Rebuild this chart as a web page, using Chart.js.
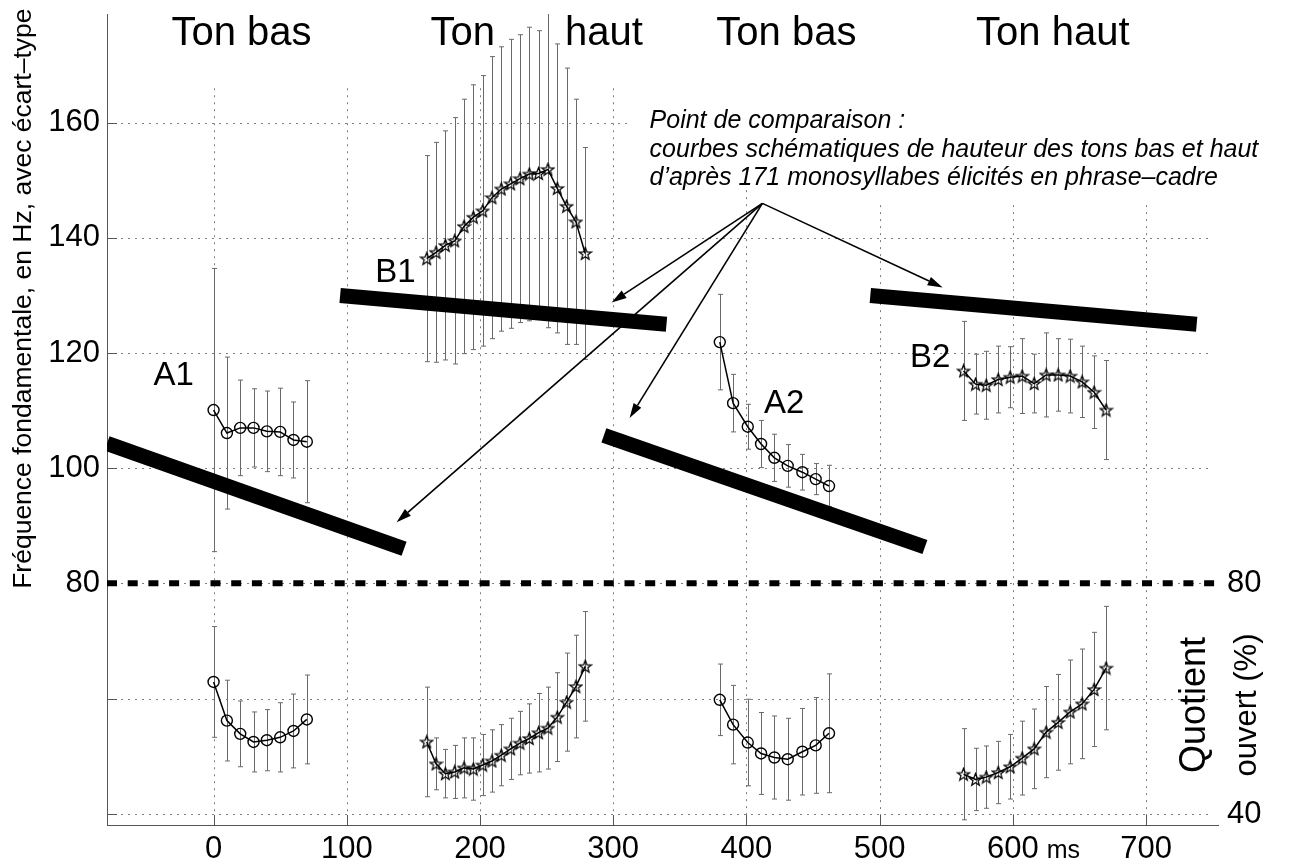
<!DOCTYPE html>
<html>
<head>
<meta charset="utf-8">
<script src="https://cdn.jsdelivr.net/npm/chart.js@4.4.1/dist/chart.umd.min.js"></script>
<style>
  html, body { margin: 0; padding: 0; background: #fff; }
  canvas { display: block; }
</style>
</head>
<body>
<canvas id="chart" width="1305" height="865"></canvas>
<script>
const FONT = '"Liberation Sans", Arial, Helvetica, sans-serif'
const AXIS = '#555'

// axes
const msTicks = [0, 100, 200, 300, 400, 500, 600, 700]
const hzTicks = [80, 100, 120, 140, 160]
const oqTicks = [40, 80]
const hzTitle = 'Fréquence fondamentale, en Hz, avec écart–type'
const oqTitle = ['Quotient', 'ouvert (%)']

// A1 : ton bas
const a1Ms = [0, 10, 20, 30, 40, 50, 60, 70]
const a1Hz = [110.1, 106.1, 107.0, 107.0, 106.4, 106.3, 104.9, 104.6]
const a1HzSd = [24.6, 13.2, 8.3, 6.8, 7.0, 7.6, 6.6, 10.6]
const a1Oq = [62.9, 56.2, 53.9, 52.5, 52.8, 53.3, 54.4, 56.4]
const a1OqSd = [9.6, 7.0, 5.7, 5.2, 5.3, 6.0, 6.4, 7.7]

// B1 : ton haut
const b1Ms = [160, 167, 174, 181, 188, 195, 202, 209, 216, 223, 230, 237, 244, 251, 258, 265, 272, 279]
const b1Hz = [136.4, 137.5, 138.7, 139.5, 142.0, 143.6, 144.7, 147.0, 148.5, 149.4, 150.3, 151.1, 151.2, 151.9, 148.6, 145.5, 142.8, 137.3]
const b1HzSd = [17.9, 19.1, 19.9, 21.4, 22.1, 23.0, 23.5, 24.5, 24.7, 25.1, 25.0, 25.5, 24.8, 27.5, 25.1, 24.0, 21.3, 18.4]
const b1Oq = [52.5, 48.7, 47.0, 47.3, 48.0, 47.8, 48.5, 49.2, 50.2, 51.3, 52.3, 53.1, 54.1, 54.9, 56.8, 59.4, 62.1, 65.6]
const b1OqSd = [9.5, 4.5, 4.2, 4.6, 5.2, 5.4, 5.3, 5.4, 5.3, 5.3, 5.5, 6.0, 6.8, 7.1, 7.7, 8.5, 8.9, 9.5]

// A2 : ton bas
const a2Ms = [380, 390, 401, 411, 421, 431, 442, 452, 462]
const a2Hz = [121.9, 111.3, 107.2, 104.2, 101.8, 100.4, 99.3, 98.1, 96.9]
const a2HzSd = [8.3, 5.0, 3.9, 4.1, 4.1, 3.7, 3.1, 2.7, 3.6]
const a2Oq = [59.8, 55.5, 52.4, 50.5, 49.8, 49.5, 50.8, 51.9, 54.0]
const a2OqSd = [6.2, 6.8, 7.5, 7.1, 7.2, 7.1, 7.5, 8.3, 10.3]

// B2 : ton haut
const b2Ms = [563, 572, 580, 589, 598, 607, 616, 625, 634, 643, 652, 661, 670]
const b2Hz = [116.9, 114.6, 114.4, 115.4, 115.8, 116.0, 114.7, 116.2, 116.2, 116.0, 115.0, 113.2, 110.1]
const b2HzSd = [8.6, 5.2, 5.9, 5.8, 5.3, 6.5, 5.1, 7.3, 6.3, 6.4, 6.2, 6.3, 8.6]
const b2Oq = [46.9, 46.0, 46.4, 47.2, 48.2, 49.7, 51.3, 54.2, 55.9, 57.7, 59.1, 61.6, 65.3]
const b2OqSd = [7.9, 5.4, 5.4, 5.4, 5.6, 6.4, 6.9, 7.9, 8.3, 9.0, 9.5, 9.9, 10.7]

// schematic tone curves (start, end)
const schemaMs = [[-80, 143], [95, 340], [293, 534], [493, 738]]
const schemaHz = [[104.3, 86.0], [130.0, 125.0], [105.7, 86.3], [130.0, 125.0]]

// annotations, placed in data units
const toneLabels = ['Ton bas', 'Ton', 'haut', 'Ton bas', 'Ton haut']
const toneLabelMs = [21, 187, 293, 430, 630]
const curveLabels = ['A1', 'B1', 'A2', 'B2']
const curveLabelAt = [[-30, 114.4], [136.6, 132.3], [428.3, 109.6], [538, 117.6]]
const noteLines = ['Point de comparaison :', 'courbes schématiques de hauteur des tons bas et haut', 'd’après 171 monosyllabes élicités en phrase–cadre']
const noteHz = [159.05, 154.1, 149.15]
const arrowFrom = [412, 146.0]
const arrowTo = [[298.8, 128.8], [137.4, 90.6], [312.3, 108.7], [547.3, 131.4]]

// grid extents (the figure is a montage, grid lines are partial)
const gridTopHz = [166, 166, 166, 166, 148.3, 145.7, 145.7, 145.7]
const hzGridEndMs = [750, 750, 750, 750, 312]

// helpers
const pts = (xs, ys) => xs.map((x, i) => ({ x, y: ys[i] }))

function makeStar() {
  const c = document.createElement('canvas')
  c.width = 15; c.height = 15
  const g = c.getContext('2d')
  g.beginPath()
  for (let i = 0; i < 10; i++) {
    const r = i % 2 ? 2.7 : 6.4
    const a = -Math.PI / 2 + i * Math.PI / 5
    g.lineTo(7.5 + r * Math.cos(a), 8 + r * Math.sin(a))
  }
  g.closePath()
  g.strokeStyle = '#000'
  g.lineWidth = 1.3
  g.stroke()
  return c
}
const star = makeStar()

function series(xs, ys, sd, axis, marker) {
  return {
    data: pts(xs, ys),
    errors: sd,
    yAxisID: axis,
    borderColor: '#000',
    borderWidth: 1.5,
    pointStyle: marker,
    pointRadius: marker === 'circle' ? 5.5 : 7,
    pointBorderWidth: 1.4,
    pointBorderColor: '#000',
    pointBackgroundColor: 'rgba(0,0,0,0)',
    tension: 0
  }
}

const schemaSets = schemaMs.map((xs, i) => ({
  data: pts(xs, schemaHz[i]),
  yAxisID: 'yHz',
  borderColor: '#000',
  borderWidth: 15,
  borderCapStyle: 'butt',
  pointRadius: 0
}))

const limit80 = {
  data: pts([-80, 754], [80, 80]),
  yAxisID: 'yHz',
  clip: false,
  borderColor: '#000',
  borderWidth: 6,
  borderDash: [10, 10.7],
  borderCapStyle: 'butt',
  pointRadius: 0
}

// plugins
const backdrop = {
  id: 'backdrop',
  beforeDatasetsDraw(chart) {
    const { ctx, chartArea: area, scales: { x, yHz, yQ } } = chart
    ctx.save()
    ctx.strokeStyle = '#7d7d7d'
    ctx.lineWidth = 1
    ctx.setLineDash([2, 5])
    msTicks.forEach((v, i) => {
      const px = Math.round(x.getPixelForValue(v)) + 0.5
      ctx.beginPath()
      ctx.moveTo(px, yHz.getPixelForValue(gridTopHz[i]))
      ctx.lineTo(px, area.bottom)
      ctx.stroke()
    })
    const hline = (scale, v, toMs) => {
      const py = Math.round(scale.getPixelForValue(v)) + 0.5
      ctx.beginPath()
      ctx.moveTo(area.left, py)
      ctx.lineTo(x.getPixelForValue(toMs), py)
      ctx.stroke()
    }
    hzTicks.forEach((v, i) => hline(yHz, v, hzGridEndMs[i]))
    ;[40, 60].forEach(v => hline(yQ, v, 750))

    // inward tick marks
    ctx.setLineDash([])
    ctx.strokeStyle = AXIS
    msTicks.forEach(v => {
      const px = Math.round(x.getPixelForValue(v)) + 0.5
      ctx.beginPath(); ctx.moveTo(px, area.bottom); ctx.lineTo(px, area.bottom - 10); ctx.stroke()
    })
    const ytick = (scale, v) => {
      const py = Math.round(scale.getPixelForValue(v)) + 0.5
      ctx.beginPath(); ctx.moveTo(area.left, py); ctx.lineTo(area.left + 10, py); ctx.stroke()
    }
    hzTicks.forEach(v => ytick(yHz, v))
    ;[40, 60].forEach(v => ytick(yQ, v))

    // error bars
    ctx.beginPath()
    ctx.rect(area.left, area.top, area.width, area.height)
    ctx.clip()
    ctx.strokeStyle = '#6a6a6a'
    chart.data.datasets.forEach(ds => {
      if (!ds.errors) return
      const y = chart.scales[ds.yAxisID]
      ds.data.forEach((p, i) => {
        const px = Math.round(x.getPixelForValue(p.x)) + 0.5
        const top = y.getPixelForValue(p.y + ds.errors[i])
        const bot = y.getPixelForValue(p.y - ds.errors[i])
        ctx.beginPath()
        ctx.moveTo(px, top); ctx.lineTo(px, bot)
        ctx.moveTo(px - 2.5, top); ctx.lineTo(px + 2.5, top)
        ctx.moveTo(px - 2.5, bot); ctx.lineTo(px + 2.5, bot)
        ctx.stroke()
      })
    })
    ctx.restore()
  }
}

const notes = {
  id: 'notes',
  afterDatasetsDraw(chart) {
    const { ctx, scales: { x, yHz, yQ } } = chart
    ctx.save()
    ctx.fillStyle = '#000'
    ctx.strokeStyle = '#000'

    // arrows
    const ox = x.getPixelForValue(arrowFrom[0])
    const oy = yHz.getPixelForValue(arrowFrom[1])
    ctx.lineWidth = 1.6
    arrowTo.forEach(([ms, hz]) => {
      const tx = x.getPixelForValue(ms)
      const ty = yHz.getPixelForValue(hz)
      const a = Math.atan2(ty - oy, tx - ox)
      const len = 15, half = 4.5
      const bx = tx - len * Math.cos(a), by = ty - len * Math.sin(a)
      ctx.beginPath(); ctx.moveTo(ox, oy); ctx.lineTo(bx, by); ctx.stroke()
      ctx.beginPath()
      ctx.moveTo(tx, ty)
      ctx.lineTo(bx + half * Math.sin(a), by - half * Math.cos(a))
      ctx.lineTo(bx - half * Math.sin(a), by + half * Math.cos(a))
      ctx.closePath()
      ctx.fill()
    })

    // titles
    ctx.textBaseline = 'alphabetic'
    ctx.textAlign = 'center'
    ctx.font = '40px ' + FONT
    toneLabels.forEach((t, i) => ctx.fillText(t, x.getPixelForValue(toneLabelMs[i]), yHz.getPixelForValue(173.5)))
    ctx.font = '33px ' + FONT
    curveLabels.forEach((t, i) => ctx.fillText(t, x.getPixelForValue(curveLabelAt[i][0]), yHz.getPixelForValue(curveLabelAt[i][1])))

    ctx.textAlign = 'left'
    ctx.font = 'italic 25px ' + FONT
    noteLines.forEach((t, i) => ctx.fillText(t, x.getPixelForValue(327.3), yHz.getPixelForValue(noteHz[i])))

    ctx.font = '25px ' + FONT
    ctx.fillText('ms', x.getPixelForValue(625.4), yQ.getPixelForValue(32.4))

    // right axis title, rotated
    ctx.textAlign = 'center'
    ctx.textBaseline = 'middle'
    ;[[736.5, 36], [776.3, 31]].forEach(([ms, size], i) => {
      ctx.save()
      ctx.font = size + 'px ' + FONT
      ctx.translate(x.getPixelForValue(ms), yQ.getPixelForValue(58.9))
      ctx.rotate(-Math.PI / 2)
      ctx.fillText(oqTitle[i], 0, 0)
      ctx.restore()
    })
    ctx.restore()
  }
}

// fixed box sizes so the plot area lands where the figure has it
const fixBox = (size) => (s) => {
  if (s.isHorizontal()) s.height = size
  else s.width = size
  s.paddingTop = s.paddingBottom = s.paddingLeft = s.paddingRight = 0
}

// scales
const tickFont = { size: 31, lineHeight: 1 }
const scales = {
  x: {
    type: 'linear',
    min: -80,
    max: 754,
    afterBuildTicks: (s) => { s.ticks = msTicks.map(value => ({ value })) },
    afterFit: fixBox(40),
    grid: { display: false, drawTicks: false },
    border: { display: true, color: AXIS },
    ticks: { font: tickFont, color: '#000', padding: 9, autoSkip: false, maxRotation: 0 }
  },
  yLfill: {
    type: 'linear',
    position: 'left',
    stack: 'left',
    stackWeight: 241.7,
    min: 38.1,
    max: 80,
    afterFit: fixBox(107),
    ticks: { display: false },
    grid: { display: false, drawTicks: false },
    border: { display: true, color: AXIS }
  },
  yHz: {
    type: 'linear',
    position: 'left',
    stack: 'left',
    stackWeight: 569.3,
    min: 80,
    max: 178.9,
    afterBuildTicks: (s) => { s.ticks = hzTicks.map(value => ({ value })) },
    afterFit: fixBox(107),
    grid: { display: false, drawTicks: false },
    border: { display: true, color: AXIS },
    ticks: { font: tickFont, color: '#000', padding: 7, autoSkip: false },
    title: {
      display: true,
      text: hzTitle,
      color: '#000',
      font: { size: 26.5, lineHeight: 1.2 },
      padding: { top: 8, bottom: 9 }
    }
  },
  yRfill: {
    type: 'linear',
    position: 'right',
    stack: 'right',
    stackWeight: 569.3,
    display: false,
    min: 0,
    max: 1,
    afterFit: fixBox(87)
  },
  yQ: {
    type: 'linear',
    position: 'right',
    stack: 'right',
    stackWeight: 241.7,
    min: 38.1,
    max: 80,
    afterBuildTicks: (s) => { s.ticks = oqTicks.map(value => ({ value })) },
    afterFit: fixBox(87),
    grid: { display: false, drawTicks: false },
    border: { display: false },
    ticks: { font: tickFont, color: '#000', padding: 9, autoSkip: false }
  }
}

// setup
Chart.defaults.font.family = FONT
Chart.defaults.color = '#000'

new Chart(document.getElementById('chart'), {
  type: 'line',
  data: {
    datasets: [
      series(a1Ms, a1Hz, a1HzSd, 'yHz', 'circle'),
      series(b1Ms, b1Hz, b1HzSd, 'yHz', star),
      series(a2Ms, a2Hz, a2HzSd, 'yHz', 'circle'),
      series(b2Ms, b2Hz, b2HzSd, 'yHz', star),
      series(a1Ms, a1Oq, a1OqSd, 'yQ', 'circle'),
      series(b1Ms, b1Oq, b1OqSd, 'yQ', star),
      series(a2Ms, a2Oq, a2OqSd, 'yQ', 'circle'),
      series(b2Ms, b2Oq, b2OqSd, 'yQ', star),
      ...schemaSets,
      limit80
    ]
  },
  options: {
    responsive: false,
    animation: false,
    devicePixelRatio: 1,
    layout: { padding: { top: 14, right: 0, left: 0, bottom: 0 } },
    scales,
    plugins: {
      legend: { display: false },
      tooltip: { enabled: false }
    }
  },
  plugins: [backdrop, notes]
})
</script>
</body>
</html>
